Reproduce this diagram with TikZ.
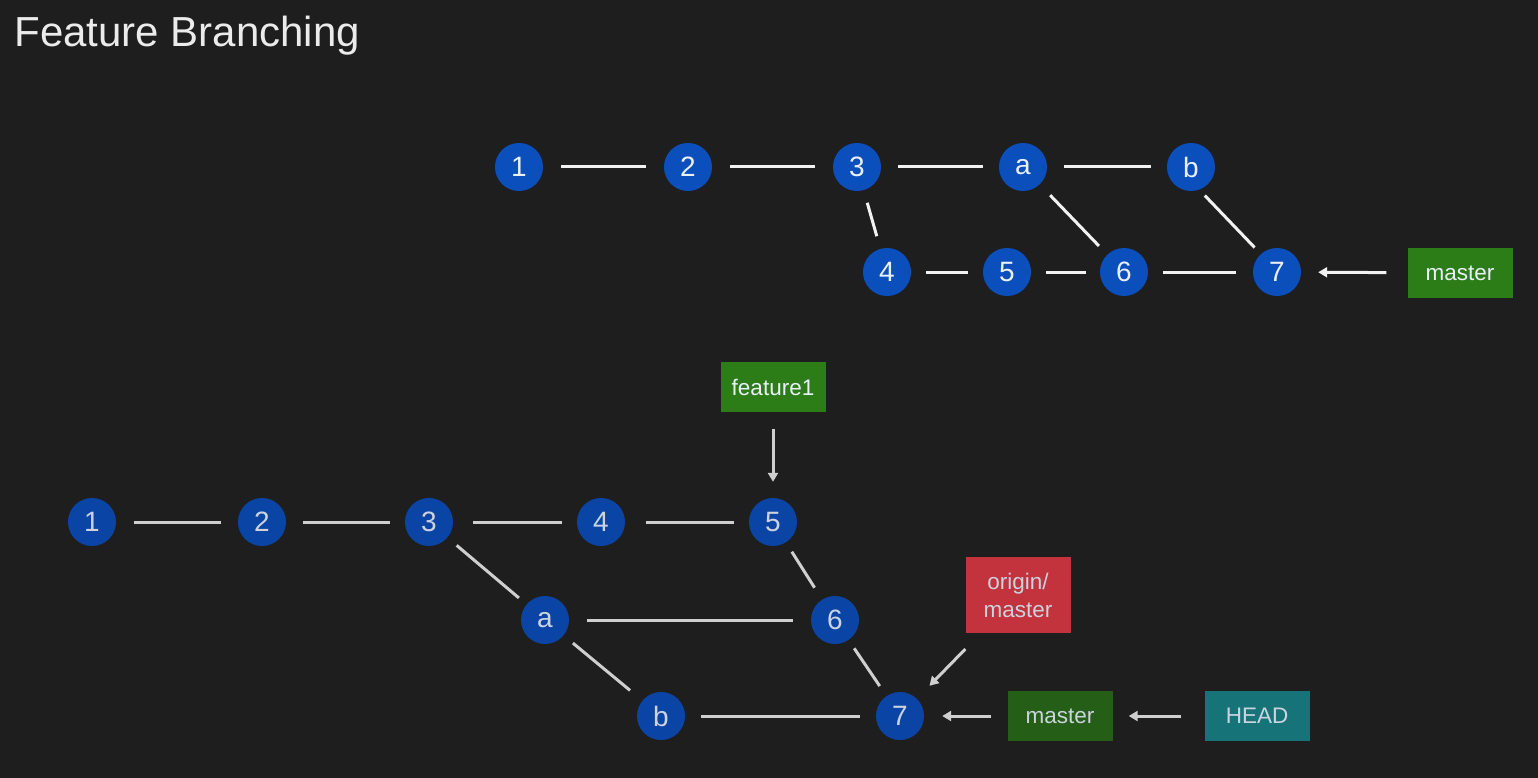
\documentclass[tikz,border=0pt]{standalone}
\usepackage{fontspec}
\setmainfont{Liberation Sans}
\usetikzlibrary{arrows.meta}

\definecolor{bg}{HTML}{1E1E1E}
\definecolor{blueA}{HTML}{0B4FBD}
\definecolor{blueB}{HTML}{0A45A6}
\definecolor{lineA}{HTML}{F2F2F2}
\definecolor{lineB}{HTML}{CFCFCF}
\definecolor{greenA}{HTML}{2C7D18}
\definecolor{greenB}{HTML}{255F17}
\definecolor{redB}{HTML}{C2333E}
\definecolor{tealB}{HTML}{167478}
\definecolor{txtA}{HTML}{EAF0FA}
\definecolor{txtB}{HTML}{CCD3DE}

\tikzset{
  commitA/.style={circle, fill=blueA, minimum size=48pt, inner sep=0pt,
    text=txtA, font=\fontsize{28}{30}\selectfont},
  commitB/.style={commitA, fill=blueB, text=txtB},
  edgeA/.style={draw=lineA, line width=3pt, shorten <=16pt, shorten >=16pt},
  edgeB/.style={edgeA, draw=lineB},
  label box/.style={rectangle, minimum width=105pt, minimum height=50pt,
    inner sep=2pt, font=\fontsize{22.5}{27}\selectfont, align=center},
  pointer/.style={-{Triangle[length=9pt,width=10pt]}, line width=3pt},
}

\begin{document}
\begin{tikzpicture}[x=1pt, y=-1pt]
  \fill[bg] (0,0) rectangle (1538,778);
  \useasboundingbox (0,0) rectangle (1538,778);

  \node[anchor=base west, text=white!92!black, font=\fontsize{42}{46}\selectfont]
    (title) at (11,47) {Feature Branching};

  % upper history
  \node[commitA] (t1) at (519,167) {1};
  \node[commitA] (t2) at (688,167) {2};
  \node[commitA] (t3) at (857,167) {3};
  \node[commitA] (ta) at (1023,167) {a};
  \node[commitA] (tb) at (1191,167) {b};
  \node[commitA] (t4) at (887,272) {4};
  \node[commitA] (t5) at (1007,272) {5};
  \node[commitA] (t6) at (1124,272) {6};
  \node[commitA] (t7) at (1277,272) {7};
  \node[label box, fill=greenA, text=txtA] (tmaster) at (1460,273) {master};

  \draw[edgeA, shorten <=18pt, shorten >=18pt] (t1) -- (t2);
  \draw[edgeA, shorten <=18pt, shorten >=18pt] (t2) -- (t3);
  \draw[edgeA, shorten <=17pt, shorten >=16pt] (t3) -- (ta);
  \draw[edgeA, shorten <=17pt, shorten >=16pt] (ta) -- (tb);
  \draw[edgeA, shorten <=13pt, shorten >=13pt] (t3) -- (t4);
  \draw[edgeA, shorten <=15pt, shorten >=12pt] (ta) -- (t6);
  \draw[edgeA, shorten <=8pt, shorten >=9pt] (tb.-70) -- (t7.132);
  \draw[edgeA, shorten <=15pt, shorten >=15pt] (t4) -- (t5);
  \draw[edgeA, shorten <=15pt, shorten >=14pt] (t5) -- (t6);
  \draw[edgeA, shorten <=15pt, shorten >=17pt] (t6) -- (t7);
  \draw[pointer, draw=lineA, fill=lineA, shorten <=21pt, shorten >=17pt] (tmaster) -- (t7);

  % lower history
  \node[commitB] (b1) at (92,522) {1};
  \node[commitB] (b2) at (262,522) {2};
  \node[commitB] (b3) at (429,522) {3};
  \node[commitB] (b4) at (601,522) {4};
  \node[commitB] (b5) at (773,522) {5};
  \node[commitB] (ba) at (545,620) {a};
  \node[commitB] (b6) at (835,620) {6};
  \node[commitB] (bb) at (661,716) {b};
  \node[commitB] (b7) at (900,716) {7};

  \node[label box, fill=greenA, text=txtA] (feature) at (773,387) {feature1};
  \node[label box, fill=redB, text=txtB, minimum height=76pt,
        font=\fontsize{22.5}{28}\selectfont] (origin) at (1018,595) {origin/\\master};
  \node[label box, fill=greenB, text=txtB] (bmaster) at (1060,716) {master};
  \node[label box, fill=tealB, text=txtB] (head) at (1257,716) {HEAD};

  \draw[edgeB, shorten <=18pt, shorten >=17pt] (b1) -- (b2);
  \draw[edgeB, shorten <=17pt, shorten >=15pt] (b2) -- (b3);
  \draw[edgeB, shorten <=20pt, shorten >=15pt] (b3) -- (b4);
  \draw[edgeB, shorten <=21pt, shorten >=15pt] (b4) -- (b5);
  \draw[edgeB, shorten <=12pt, shorten >=10pt] (b3) -- (ba);
  \draw[edgeB, shorten <=11pt, shorten >=14pt] (b5) -- (b6);
  \draw[edgeB, shorten <=18pt, shorten >=18pt] (ba) -- (b6);
  \draw[edgeB, shorten <=12pt, shorten >=16pt] (ba) -- (bb);
  \draw[edgeB, shorten <=10pt, shorten >=12pt] (b6) -- (b7);
  \draw[edgeB, shorten <=16pt, shorten >=16pt] (bb) -- (b7);

  \draw[pointer, draw=lineB, fill=lineB, shorten <=17pt, shorten >=16pt] (feature) -- (b5);
  \draw[pointer, draw=lineB, fill=lineB, shorten <=22pt, shorten >=18pt] (origin) -- (b7);
  \draw[pointer, draw=lineB, fill=lineB, shorten <=16pt, shorten >=18pt] (bmaster) -- (b7);
  \draw[pointer, draw=lineB, fill=lineB, shorten <=23pt, shorten >=16pt] (head) -- (bmaster);
\end{tikzpicture}
\end{document}
